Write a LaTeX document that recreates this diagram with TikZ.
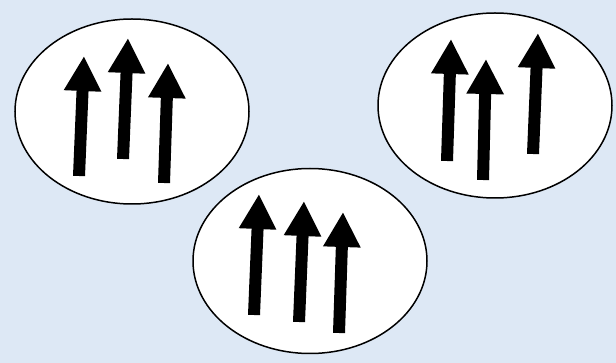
\documentclass[tikz,border=0pt]{standalone}
\usepackage{tikz}
\usetikzlibrary{arrows.meta,shapes.geometric}
\definecolor{fondo}{HTML}{DDE8F5}

\begin{document}
\begin{tikzpicture}[x=1pt,y=-1pt,
          dominio/.style={ellipse,draw,line width=1.5pt,fill=white,minimum width=234pt,minimum height=185pt,inner sep=0pt},
          espin/.style={line width=12pt,-{Triangle[length=35pt,width=35pt]}}]
        \fill[fondo] (0,0) rectangle (616,363);
        \useasboundingbox (0,0) rectangle (616,363);
        \node[dominio] (dom1) at (132,111.5) {};
        \node[dominio] (dom2) at (310,261) {};
        \node[dominio] (dom3) at (495,105.5) {};
        % espines: cola -- punta
        \draw[espin] (79,176) -- (84,56);
        \draw[espin] (123,159) -- (128,38);
        \draw[espin] (164,183) -- (168,63);
        \draw[espin] (254,315) -- (259,194);
        \draw[espin] (299,322) -- (304,201);
        \draw[espin] (339,333) -- (343,212);
        \draw[espin] (447,161) -- (451,39);
        \draw[espin] (483,180) -- (486,59);
        \draw[espin] (533,154) -- (538,33);
      \end{tikzpicture}
\end{document}
